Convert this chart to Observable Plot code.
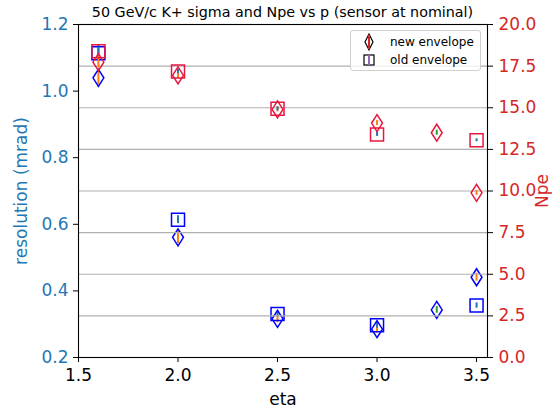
<!DOCTYPE html>
<html><head><meta charset="utf-8">
<script src="https://cdn.jsdelivr.net/npm/d3@7"></script>
<script src="https://cdn.jsdelivr.net/npm/@observablehq/plot@0.6"></script>
<style>
body{margin:0;background:#fff;font-family:"DejaVu Sans",sans-serif;}
#wrap{position:relative;width:552px;height:410px;overflow:hidden;}
#wrap svg{position:absolute;left:0;top:0;overflow:visible;}
#title{position:absolute;left:78px;width:409px;top:3px;text-align:center;font-size:14.3px;line-height:18px;color:#000;white-space:nowrap;z-index:3;}
#legend{position:absolute;left:350px;top:30px;width:129px;height:39px;border:1px solid #d0d0d0;border-radius:3px;background:rgba(255,255,255,0.8);z-index:3;font-size:12px;}
#legend .row{position:absolute;left:0;height:18px;display:flex;align-items:center;}
#legend svg{position:static;}
#legend span{position:absolute;left:39px;white-space:nowrap;}
</style></head><body>
<div id="wrap">
<div id="title">50 GeV/c K+ sigma and Npe vs p (sensor at nominal)</div>
<div id="legend">
 <div class="row" style="top:2px"><svg width="36" height="18"><path d="M18,1 L22,9 L18,17 L14,9 Z" fill="none" stroke="#000" stroke-width="1.2"/><line x1="18" y1="2" x2="18" y2="16" stroke="#d62728" stroke-width="2"/></svg><span>new envelope</span></div>
 <div class="row" style="top:20px"><svg width="36" height="18"><rect x="13" y="4" width="10" height="10" fill="none" stroke="#000" stroke-width="1.2"/><line x1="18" y1="4" x2="18" y2="14" stroke="#9467bd" stroke-width="2"/></svg><span>old envelope</span></div>
</div>
</div>
<script>
// ---- data ----
const etaNew = [1.6, 2.0, 2.5, 3.0, 3.3, 3.5];
const etaOld = [1.6, 2.0, 2.5, 3.0, 3.5];
const resNew = [1.040, 0.561, 0.316, 0.285, 0.343, 0.441];
const resNewErr = [0.021, 0.019, 0.012, 0.012, 0.010, 0.012];
const resOld = [1.114, 0.614, 0.331, 0.297, 0.356];
const resOldErr = [0.024, 0.012, 0.009, 0.009, 0.008];
const npeNew = [17.74, 16.94, 14.90, 14.08, 13.50, 9.89];
const npeNewErr = [0.36, 0.18, 0.15, 0.15, 0.15, 0.15];
const npeOld = [18.40, 17.18, 14.94, 13.40, 13.05];
const npeOldErr = [0.24, 0.12, 0.12, 0.12, 0.09];
const newRun = ["a", "a", "a", "a", "b", "a"]; // error-bar colour group
const xTicks = [1.5, 2.0, 2.5, 3.0, 3.5];
const resTicks = [0.2, 0.4, 0.6, 0.8, 1.0, 1.2];
const npeTicks = [0, 2.5, 5, 7.5, 10, 12.5, 15, 17.5, 20];

// ---- build tables ----
const tNew = (vals, errs) => etaNew.map((e, i) => ({eta: e, v: vals[i], lo: vals[i] - errs[i], hi: vals[i] + errs[i], run: newRun[i]}));
const tOld = (vals, errs) => etaOld.map((e, i) => ({eta: e, v: vals[i], lo: vals[i] - errs[i], hi: vals[i] + errs[i], run: "old"}));
const resN = tNew(resNew, resNewErr), resO = tOld(resOld, resOldErr);
const npeN = tNew(npeNew, npeNewErr), npeO = tOld(npeOld, npeOldErr);

const thinDiamond = {draw(ctx, size) { const r = Math.sqrt(size / Math.PI), w = r * 0.64;
  ctx.moveTo(0, -r); ctx.lineTo(w, 0); ctx.lineTo(0, r); ctx.lineTo(-w, 0); ctx.closePath(); }};
const squareSym = {draw(ctx, size) { const r = Math.sqrt(size / Math.PI); ctx.rect(-r, -r, 2 * r, 2 * r); }};

const W = 552, H = 410;
const common = {width: W, height: H, marginTop: 24, marginBottom: 53, marginLeft: 78, marginRight: 65,
  style: {fontFamily: "DejaVu Sans", fontSize: "17px", background: "transparent", overflow: "visible"}};
const errColor = {type: "ordinal", domain: ["old", "a", "b"], range: ["#1f77b4", "#ff7f0e", "#2ca02c"]};
const BLUE = "#0000ff", RED = "#e8173f";

const p1 = Plot.plot({
  ...common,
  x: {domain: [1.5, 3.555]},
  y: {domain: [0.2, 1.2]},
  color: errColor,
  marks: [
    Plot.axisX({ticks: xTicks, tickFormat: ".1f", tickSize: 5, tickPadding: 6, stroke: "#000", fill: "#000", fontSize: 17,
      label: "eta", labelArrow: "none", labelAnchor: "center", labelOffset: 47}),
    Plot.axisY({anchor: "left", ticks: resTicks, tickFormat: ".1f", tickSize: 5, tickPadding: 5, stroke: "#000", fill: "#1f77b4", fontSize: 17,
      label: "resolution (mrad)", labelArrow: "none", labelAnchor: "center", labelOffset: 64}),
    Plot.ruleX(resN, {x: "eta", y1: "lo", y2: "hi", stroke: "run", strokeWidth: 2}),
    Plot.ruleX(resO, {x: "eta", y1: "lo", y2: "hi", stroke: "run", strokeWidth: 2}),
    Plot.dot(resN, {x: "eta", y: "v", symbol: thinDiamond, r: 8.5, stroke: BLUE, strokeWidth: 1.5, fill: "none"}),
    Plot.dot(resO, {x: "eta", y: "v", symbol: squareSym, r: 6.5, stroke: BLUE, strokeWidth: 1.5, fill: "none"})
  ]
});

const p2 = Plot.plot({
  ...common,
  x: {domain: [1.5, 3.555], axis: null},
  y: {domain: [0, 20]},
  color: errColor,
  marks: [
    Plot.gridY(npeTicks, {stroke: "#b0b0b0", strokeOpacity: 1, strokeWidth: 1.2}),
    Plot.axisY({anchor: "right", ticks: npeTicks, tickFormat: ".1f", tickSize: 5, tickPadding: 6, stroke: "#000", fill: "#d62728", fontSize: 17,
      label: "Npe", labelArrow: "none", labelAnchor: "center", labelOffset: 60}),
    Plot.ruleX(npeN, {x: "eta", y1: "lo", y2: "hi", stroke: "run", strokeWidth: 2}),
    Plot.ruleX(npeO, {x: "eta", y1: "lo", y2: "hi", stroke: "run", strokeWidth: 2}),
    Plot.dot(npeN, {x: "eta", y: "v", symbol: thinDiamond, r: 8.5, stroke: RED, strokeWidth: 1.5, fill: "none"}),
    Plot.dot(npeO, {x: "eta", y: "v", symbol: squareSym, r: 6.5, stroke: RED, strokeWidth: 1.5, fill: "none"}),
    Plot.frame({stroke: "#000", strokeWidth: 1.1})
  ]
});

const wrap = document.getElementById("wrap");
wrap.prepend(p2);
wrap.prepend(p1);
</script>
</body></html>
